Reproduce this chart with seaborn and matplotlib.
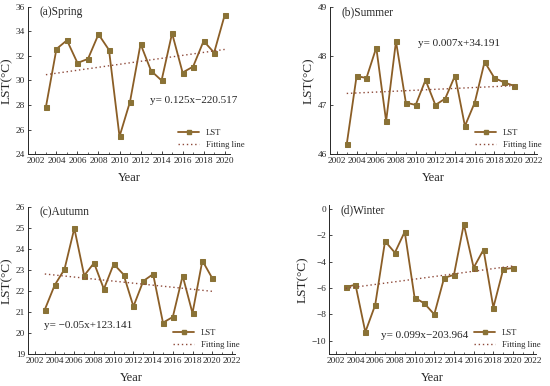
import numpy as np
import pandas as pd
import matplotlib
matplotlib.use("Agg")
import matplotlib.pyplot as plt
from matplotlib.lines import Line2D
from matplotlib.ticker import MultipleLocator
import seaborn as sns

years = list(range(2003, 2021))
spring = [27.84, 32.57, 33.28, 31.43, 31.76, 33.77, 32.49, 25.43, 28.27, 32.98,
          30.79, 30.00, 33.85, 30.65, 31.13, 33.22, 32.27, 35.32]
summer = [46.20, 47.59, 47.55, 48.17, 46.67, 48.30, 47.05, 47.00, 47.51, 47.00,
          47.13, 47.60, 46.57, 47.05, 47.88, 47.55, 47.46, 47.39]
autumn = [21.11, 22.27, 23.03, 24.98, 22.73, 23.33, 22.09, 23.28, 22.78, 21.26,
          22.47, 22.80, 20.49, 20.76, 22.72, 20.94, 23.44, 22.61]
winter = [-5.93, -5.75, -9.34, -7.29, -2.45, -3.32, -1.73, -6.72, -7.17, -8.00,
          -5.23, -5.00, -1.16, -4.46, -3.09, -7.48, -4.58, -4.48]

titles = ["(a)Spring", "(b)Summer", "(c)Autumn", "(d)Winter"]
equations = ["y= 0.125x\u2212220.517", "y= 0.007x+34.191",
             "y= \u22120.05x+123.141", "y= 0.099x\u2212203.964"]
ylims = [(24, 36), (46, 49), (19, 26), (-11, 0.3)]
ysteps = [2, 1, 1, 2]
xmaxes = [2020, 2022, 2022, 2022]

sns.set_style("ticks")
plt.rcParams['font.family'] = ['Liberation Serif', 'DejaVu Serif']

LINE_C = '#8B5E26'
MARK_C = '#8A7236'
FIT_C = '#8E4A3A'

fig = plt.figure(figsize=(5.5, 3.86), dpi=100)
positions = [
    [0.051, 0.601, 0.367, 0.381],
    [0.600, 0.601, 0.376, 0.381],
    [0.051, 0.083, 0.376, 0.381],
    [0.598, 0.083, 0.376, 0.386],
]
eq_pos = [(2012.9, 28.35), (2010.2, 48.25), (2002.9, 20.37), (2006.6, -9.6)]
leg_anchor = [(1.11, -0.02), (1.06, -0.02), (1.06, -0.02), (1.06, -0.02)]

for i, vals in enumerate([spring, summer, autumn, winter]):
    ax = fig.add_axes(positions[i])
    df = pd.DataFrame({"Year": years, "LST": vals})
    sns.lineplot(data=df, x="Year", y="LST", ax=ax, color=LINE_C, lw=1.3,
                 marker='s', markersize=3.6, markerfacecolor=MARK_C,
                 markeredgecolor=MARK_C)
    sns.regplot(data=df, x="Year", y="LST", ax=ax, scatter=False, ci=None,
                line_kws=dict(color=FIT_C, ls=(0, (1, 2)), lw=1.0))
    ax.set_ylim(*ylims[i])
    ax.set_xlim(2001.3, 2020.5 if xmaxes[i] == 2020 else 2022.3)
    ax.set_xticks(list(range(2002, xmaxes[i] + 1, 2)))
    ax.xaxis.set_minor_locator(MultipleLocator(1))
    ax.yaxis.set_major_locator(MultipleLocator(ysteps[i]))
    ax.tick_params(axis='both', which='major', direction='in', length=2.5,
                   width=0.6, labelsize=6.7, pad=2)
    ax.tick_params(axis='both', which='minor', direction='in', length=1.5,
                   width=0.5)
    ax.tick_params(axis='y', which='minor', left=False)
    for s in ['top', 'right']:
        ax.spines[s].set_visible(False)
    for s in ['left', 'bottom']:
        ax.spines[s].set_linewidth(0.7)
    ax.set_xlabel("Year", fontsize=9, labelpad=5)
    ax.set_ylabel("LST(\u00b0C)", fontsize=9.5, labelpad=2)
    ax.text(0.055, 0.965, titles[i], transform=ax.transAxes, fontsize=8.3,
            ha='left', va='center')
    ax.text(eq_pos[i][0], eq_pos[i][1], equations[i], fontsize=8,
            ha='left', va='center')
    handles = [Line2D([], [], color=LINE_C, lw=1.3, marker='s', markersize=3.4,
                      markerfacecolor=MARK_C, markeredgecolor=MARK_C),
               Line2D([], [], color=FIT_C, ls=(0, (1, 2)), lw=1.0)]
    ax.legend(handles, ["LST", "Fitting line"], loc='lower right',
              bbox_to_anchor=leg_anchor[i], frameon=False, fontsize=6.2,
              handlelength=2.4, labelspacing=0.45, handletextpad=0.8)

fig.savefig("out.png", dpi=100)
